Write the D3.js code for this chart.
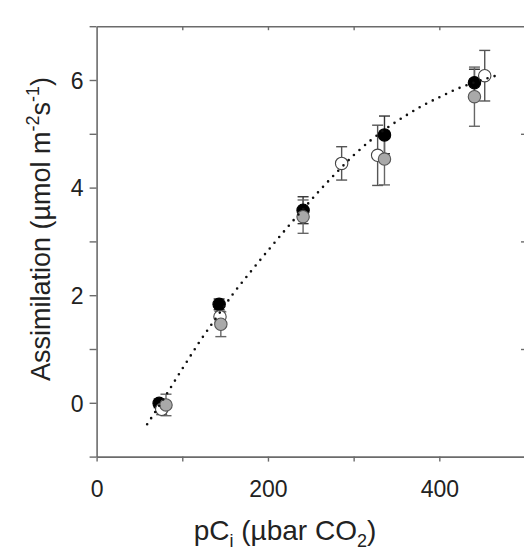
<!DOCTYPE html>
<html>
<head>
<meta charset="utf-8">
<script src="https://cdn.jsdelivr.net/npm/d3@7"></script>
<style>
  html, body { margin: 0; padding: 0; background: #fff; }
  svg { display: block; font-family: "Liberation Sans", Arial, sans-serif; }
</style>
</head>
<body>
<script>
// series: pCi (µbar) / assimilation / standard error
const blackX = [73, 143, 241, 336, 441];
const blackY = [-0.01, 1.83, 3.58, 4.98, 5.95];
const blackErr = [0.08, 0.10, 0.25, 0.35, 0.25];

const whiteX = [76, 144, 286, 328, 453];
const whiteY = [-0.12, 1.60, 4.45, 4.60, 6.08];
const whiteErr = [0.10, 0.10, 0.31, 0.56, 0.47];

const grayX = [81, 145, 241, 336, 441];
const grayY = [-0.04, 1.46, 3.46, 4.53, 5.69];
const grayErr = [0.20, 0.23, 0.31, 0.48, 0.55];

// dotted fitted curve
const fitX = [59, 80, 100, 120, 140, 160, 180, 200, 220, 240, 260, 280, 300, 320, 340, 360, 380, 400, 420, 440, 466];
const fitY = [-0.40, 0.12, 0.63, 1.13, 1.59, 2.04, 2.44, 2.83, 3.21, 3.58, 3.94, 4.28, 4.60, 4.88, 5.12, 5.33, 5.52, 5.68, 5.83, 5.95, 6.08];

const xTickLabels = [0, 200, 400];
const yTickLabels = [0, 2, 4, 6];

const W = 524, H = 550;
const svg = d3.select('body').append('svg').attr('width', W).attr('height', H);

const x = d3.scaleLinear().domain([0, 500]).range([96.6, 525]);
const y = d3.scaleLinear().domain([-1, 7]).range([456.6, 26.2]);

const AXIS = '#6b6b6b';

/*
  Axes
*/
function styleAxis(g) {
  g.select('.domain').attr('stroke', AXIS).attr('stroke-width', 1.6);
  g.selectAll('.tick line').attr('stroke', AXIS).attr('stroke-width', 1.4);
  g.selectAll('.tick text').attr('fill', '#222').style('font-size', '23px');
}

// bottom
svg.append('g')
  .attr('transform', `translate(0,${y(-1)})`)
  .call(d3.axisBottom(x).tickValues(d3.range(0, 501, 100)).tickSize(5).tickSizeOuter(0)
    .tickFormat(d => xTickLabels.includes(d) ? d : ''))
  .call(styleAxis)
  .call(g => g.selectAll('.tick text').attr('y', 0).attr('dy', '40px'));

// left
svg.append('g')
  .attr('transform', `translate(${x(0)},0)`)
  .call(d3.axisLeft(y).tickValues(d3.range(-1, 8, 1)).tickSize(7).tickSizeOuter(0)
    .tickFormat(d => yTickLabels.includes(d) ? d : ''))
  .call(styleAxis)
  .call(g => g.selectAll('.tick text').attr('x', -13).attr('dy', '0.36em'));

// top
svg.append('g')
  .attr('transform', `translate(0,${y(7)})`)
  .call(d3.axisBottom(x).tickValues(d3.range(100, 401, 100)).tickSize(4).tickSizeOuter(0).tickFormat(''))
  .call(styleAxis);

// right (only inner ticks show at the picture edge)
svg.append('g')
  .attr('transform', `translate(${W + 1},0)`)
  .call(d3.axisLeft(y).tickValues([1, 3, 5]).tickSize(4).tickSizeOuter(0).tickFormat(''))
  .call(styleAxis);

/*
  Axis titles
*/
const xt = svg.append('text')
  .attr('x', 285).attr('y', 540)
  .attr('text-anchor', 'middle')
  .style('font-size', '28px').attr('fill', '#222');
xt.append('tspan').text('pC');
xt.append('tspan').text('i').attr('dy', 7).style('font-size', '18px');
xt.append('tspan').text(' (\u00b5bar CO').attr('dy', -7);
xt.append('tspan').text('2').attr('dy', 7).style('font-size', '18px');
xt.append('tspan').text(')').attr('dy', -7);

const yt = svg.append('text')
  .attr('transform', 'translate(50,229) rotate(-90)')
  .attr('text-anchor', 'middle')
  .style('font-size', '27px').attr('fill', '#222');
yt.append('tspan').text('Assimilation (\u00b5mol m');
yt.append('tspan').text('-2').attr('dy', -11).style('font-size', '18px');
yt.append('tspan').text('s').attr('dy', 11);
yt.append('tspan').text('-1').attr('dy', -11).style('font-size', '18px');
yt.append('tspan').text(')').attr('dy', 11);

/*
  Points with error bars
*/
const series = [
  { xs: blackX, ys: blackY, es: blackErr, fill: '#000', stroke: '#000', bar: '#333' },
  { xs: whiteX, ys: whiteY, es: whiteErr, fill: '#fff', stroke: '#444', bar: '#555' },
  { xs: grayX, ys: grayY, es: grayErr, fill: '#a9a9a9', stroke: '#555', bar: '#666' }
];
series.forEach(s => { s.pts = s.xs.map((v, i) => ({ x: v, y: s.ys[i], e: s.es[i] })); });

const CAP = 5.5;
const bars = svg.append('g');
series.forEach(s => {
  bars.selectAll(null).data(s.pts).join('line')
    .attr('x1', d => x(d.x)).attr('x2', d => x(d.x))
    .attr('y1', d => y(d.y + d.e)).attr('y2', d => y(d.y - d.e))
    .attr('stroke', s.bar).attr('stroke-width', 1.4);
  [1, -1].forEach(sign => {
    bars.selectAll(null).data(s.pts).join('line')
      .attr('x1', d => x(d.x) - CAP).attr('x2', d => x(d.x) + CAP)
      .attr('y1', d => y(d.y + sign * d.e)).attr('y2', d => y(d.y + sign * d.e))
      .attr('stroke', s.bar).attr('stroke-width', 1.4);
  });
});

const dots = svg.append('g');
series.forEach(s => {
  dots.selectAll(null).data(s.pts).join('circle')
    .attr('cx', d => x(d.x)).attr('cy', d => y(d.y))
    .attr('r', 6.2)
    .attr('fill', s.fill).attr('stroke', s.stroke).attr('stroke-width', 1.1);
});

/*
  Dotted fit
*/
const line = d3.line()
  .x(d => x(d[0])).y(d => y(d[1]))
  .curve(d3.curveMonotoneX);

svg.append('path')
  .datum(fitX.map((v, i) => [v, fitY[i]]))
  .attr('d', line)
  .attr('fill', 'none')
  .attr('stroke', '#111')
  .attr('stroke-width', 2.6)
  .attr('stroke-linecap', 'round')
  .attr('stroke-dasharray', '0,7.4');
</script>
</body>
</html>
